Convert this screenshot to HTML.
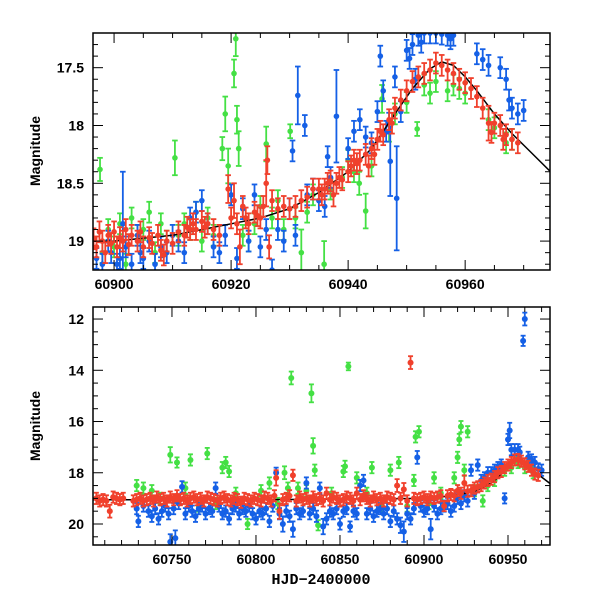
<!DOCTYPE html>
<html><head><meta charset="utf-8"><style>
html,body{margin:0;padding:0;background:#fff;}
svg{display:block;font-family:"Liberation Sans",sans-serif;}
</style></head><body>
<svg id="chart" width="600" height="600" viewBox="0 0 600 600">
<defs>
<clipPath id="clipTop"><rect x="93" y="33" width="457" height="237"/></clipPath>
<clipPath id="clipBot"><rect x="93" y="307" width="457" height="238"/></clipPath>
</defs>
<g id="top"></g>
<g id="bot"></g>
<text x="321" y="584" text-anchor="middle" font-size="15" font-weight="bold" font-family="Liberation Mono, monospace">HJD−2400000</text>
<text transform="translate(40,151) rotate(-90)" text-anchor="middle" font-size="14" font-weight="bold">Magnitude</text>
<text transform="translate(40,426) rotate(-90)" text-anchor="middle" font-size="14" font-weight="bold">Magnitude</text>
</svg>
<script>
// ---- data ----
const modelT=[60700,60800,60900,60910,60920,60925,60930,60935,60940,60944,60948,60951,60954,60956,60958,60960,60962,60965,60968,60971,60975];
const modelM=[19.05,19.05,19.0,18.95,18.85,18.8,18.72,18.58,18.4,18.2,17.9,17.68,17.51,17.45,17.48,17.58,17.7,17.9,18.07,18.22,18.42];

const topRed=[[60896.5,18.98],[60897,19.05],[60897.5,18.92],[60898,19.0],[60898.5,19.1],[60899,18.95],[60899.5,19.02],[60900,18.92],[60900.5,19.05],[60901,18.97],[60901.5,19.0],[60902,18.9],[60902.5,19.03],[60903,18.95],[60904,19.0],[60904.5,18.92],[60905,19.05],[60906,18.97],[60906.5,19.02],[60907.5,18.95],[60908,19.08],[60908.5,19.12],[60909,19.0],[60910,19.02],[60911,18.92],[60912,18.95],[60912.5,18.88],[60913,18.9],[60913.5,18.85],[60914,18.9],[60915,18.83],[60915.5,18.88],[60916,18.85],[60917,18.9],[60918,18.95],[60919.5,18.55,0.12],[60920,18.8],[60920.5,18.65,0.15],[60921,18.85],[60921.5,19.05,0.15],[60922,18.7],[60922.5,18.8],[60923,18.85],[60924,18.75],[60924.5,18.78],[60925,18.8],[60925.5,18.7],[60926,18.5,0.2],[60926.2,18.3,0.12],[60926.5,19.05,0.1],[60927,18.65],[60928,18.72],[60929,18.7],[60930,18.72],[60931,18.7],[60932,18.65],[60933,18.62],[60934,18.55],[60935,18.55],[60935.5,18.6],[60936,18.55],[60936.5,18.5],[60937,18.48],[60937.5,18.6,0.1],[60938,18.5],[60938.5,18.45],[60939,18.47],[60940,18.4],[60940.5,18.35],[60941,18.3],[60941.5,18.33],[60942,18.3],[60943,18.25],[60943.5,18.35],[60944,18.2],[60944.5,18.25],[60945,18.12],[60945.5,18.05],[60946,18.08],[60947,17.95],[60947.5,17.98],[60948,17.85],[60949,17.78],[60950,17.7],[60951,17.62],[60952,17.58],[60953,17.55],[60954,17.52],[60955,17.46],[60956,17.48],[60957,17.52],[60958,17.55],[60959,17.6],[60960,17.63],[60961,17.68],[60962,17.75],[60963,17.85],[60964,17.98,0.15],[60964.5,18.06],[60965,17.98],[60966,18.0],[60966.5,18.12],[60967,18.08],[60968,18.12],[60969,18.15]];
const topBlue=[[60897,19.15],[60898,19.2],[60899,19.0],[60899.5,19.1],[60900.5,19.2],[60901,19.15],[60901.5,18.85,0.45],[60902,19.05],[60903,19.2],[60904,18.95],[60904.5,19.1],[60905,19.15],[60906,19.0],[60907,19.2],[60908,19.05],[60909,19.1],[60910,18.95],[60911,19.0],[60912,19.1],[60913,18.8],[60914,18.75],[60915,18.65],[60916,18.85],[60917,19.05],[60918,19.1],[60919,18.95],[60920,18.6],[60921,19.15],[60922,18.72],[60923,19.0],[60924,18.6],[60925,19.05],[60926,18.9],[60927,19.25],[60928,18.9],[60929,19.0],[60930,18.72],[60930.5,18.22],[60931.4,17.74,0.25],[60932.6,18.0],[60931,18.95],[60933,18.6],[60934,18.55],[60935,18.65],[60936,18.7],[60936.5,18.27],[60937,18.45],[60938,17.92,0.4],[60940,18.2],[60941,18.05],[60942,17.95],[60943,18.1],[60944,18.15],[60945,17.88],[60945.5,17.4],[60946,17.7],[60946.5,18.05],[60947,17.98],[60947.2,18.31,0.3],[60948.3,18.63,0.45],[60948,17.58],[60949,17.88],[60950,17.35],[60950.5,17.42],[60951,17.3],[60951.5,17.6],[60952,17.22],[60952.5,17.28],[60953,17.2],[60954,17.2],[60955,17.2],[60956,17.21],[60957,17.22],[60957.5,17.25],[60958,17.22],[60962,17.38],[60963,17.43],[60964,17.48],[60966,17.5],[60967,17.6],[60967.5,17.78],[60968,17.85],[60969,17.9],[60970,17.87]];
const topGreen=[[60897.6,18.38,0.1],[60898,19.1],[60899,18.9],[60900,19.05],[60901,18.85],[60902,19.2],[60903,18.8],[60904,18.95],[60905,18.9],[60906,18.75],[60907,19.1],[60908,18.85],[60909,19.0],[60910.4,18.28,0.15],[60911,18.95],[60912,18.85],[60913,18.9],[60914,18.75],[60915,19.0],[60916,18.8],[60917,18.95],[60918.5,18.2,0.1],[60919,17.9,0.15],[60919.5,18.35,0.15],[60920.5,17.55,0.12],[60920.8,17.25,0.15],[60921,17.95,0.12],[60921.3,18.2,0.15],[60922,18.95],[60923,19.0],[60924,18.85],[60925,18.7],[60926,18.16,0.15],[60927,18.8],[60928,18.65],[60929,18.9],[60930.1,18.05,0.06],[60931,18.8],[60932,19.1,0.2],[60933,18.75],[60934,18.6],[60935.9,19.2,0.2],[60937,18.55],[60939,18.45],[60940,18.3],[60941,18.4],[60941.9,18.5,0.1],[60943,18.74,0.15],[60944,18.35],[60945.8,17.77,0.12],[60947,18.05],[60948,17.9],[60950,17.8],[60951.8,18.03,0.06],[60953,17.65],[60954,17.72],[60955,17.62],[60957,17.7],[60958,17.65],[60959,17.68],[60960,17.72],[60964,17.95],[60965,18.02],[60967,18.15],[60968,18.12]];

const botRed=[[60705,19.0],[60707,19.1],[60709,19.05],[60711,19.1],[60713,19.5,0.25],[60715,18.95],[60717,19.0],[60719,19.05],[60721,19.0],[60727,19.1],[60729,19.05],[60731,19.0],[60733,19.1],[60735,19.05],[60737,19.0],[60739,19.1],[60741,18.95],[60743,19.05],[60745,19.0],[60747,19.1],[60749,18.95],[60751,19.05],[60753,18.9],[60755,19.05],[60757,19.0],[60759,19.1],[60761,19.0],[60763,18.95],[60765,19.05],[60767,19.0],[60769,19.1],[60771,18.95],[60773,19.0],[60775,19.05],[60777,19.1],[60779,19.0],[60781,18.95],[60783,19.05],[60785,19.1],[60787,19.0],[60789,19.05],[60791,19.15],[60793,19.0],[60795,19.05],[60797,19.1],[60799,19.0],[60801,19.05],[60803,19.1],[60805,18.95],[60807,19.0],[60809,19.1],[60811,18.9],[60812,18.2,0.3],[60814,19.5,0.3],[60816,19.05],[60818,19.0],[60820,18.9],[60822,18.1],[60824,19.1],[60826,18.95],[60828,19.05],[60830,19.0],[60832,19.1],[60834,18.95],[60836,19.05],[60838,19.0],[60840,19.1],[60842,18.8],[60844,19.05],[60846,18.95],[60848,19.0],[60850,19.1],[60852,19.05],[60854,18.95],[60856,19.0],[60858,19.1],[60860,18.8],[60862,19.05],[60864,18.9],[60866,19.0],[60868,19.1],[60870,18.95],[60872,19.05],[60874,19.0],[60876,19.1],[60878,18.95],[60880,19.0],[60882,19.05],[60884,18.5,0.25],[60886,19.0],[60888,18.65,0.25],[60890,19.1],[60892,13.7,0.25],[60894,19.0],[60896,19.05],[60898,19.0],[60900,18.95],[60902,19.05],[60904,18.95],[60906,19.0],[60908,18.95],[60910,18.9],[60912,19.3,0.2],[60914,18.9],[60916,18.85],[60918,18.9],[60920,18.7],[60922,18.8],[60924,18.4,0.3],[60926,18.72],[60928,18.7],[60930,18.6],[60932,18.55],[60934,18.5],[60936,18.4],[60938,18.3],[60940,18.25],[60942,18.15],[60944,18.0],[60946,17.95],[60948,17.8],[60950,17.7],[60952,17.6],[60954,17.5],[60956,17.48],[60958,17.55],[60960,17.65],[60962,17.75],[60964,17.9],[60966,18.05],[60968,18.1]];
const botBlue=[[60729,19.4],[60730,19.9],[60733,19.3],[60736,19.5],[60738,19.7],[60740,19.4],[60742,19.8],[60744,19.5],[60746,19.3],[60748,19.6],[60749,20.7,0.3],[60751,19.4],[60752,20.55,0.3],[60754,19.2],[60756,18.55],[60758,19.6],[60760,19.3],[60762,19.5],[60764,19.7],[60766,19.4],[60768,19.3],[60770,19.6],[60772,19.4],[60774,19.5],[60776,18.6],[60778,19.3],[60780,19.6],[60782,19.5],[60784,19.8],[60786,19.4],[60788,19.3],[60790,19.6],[60792,19.4],[60794,19.5],[60796,19.3],[60798,19.6],[60800,19.8],[60802,19.5],[60804,19.6],[60806,19.4],[60808,19.9],[60810,19.3],[60812,18.0,0.2],[60814,19.6],[60816,20.0,0.3],[60818,19.5],[60820,19.7],[60822,20.2,0.3],[60824,19.4],[60826,19.6],[60828,19.5],[60830,18.4],[60832,19.6],[60834,19.4],[60836,19.7],[60838,18.6],[60840,20.1,0.3],[60842,19.8],[60844,19.5],[60846,19.6],[60848,19.4],[60850,20.0],[60852,19.5],[60854,19.4],[60856,20.1,0.2],[60858,19.5],[60860,19.6],[60862,18.5],[60864,18.3],[60866,19.6],[60868,19.4],[60870,19.7],[60872,19.5],[60874,19.4],[60876,19.6],[60878,19.4],[60880,19.9],[60882,19.5],[60884,19.8],[60886,20.05,0.3],[60888,20.3,0.4],[60890,19.6],[60892,19.8],[60894,19.4],[60896,17.4,0.25],[60898,19.3],[60900,19.5],[60902,19.4],[60904,20.2,0.4],[60906,19.3],[60908,19.6],[60910,19.4],[60912,19.3],[60914,19.2],[60916,19.5],[60918,19.3],[60920,19.0],[60922,19.2],[60924,18.9],[60926,19.1],[60928,17.9],[60930,18.8],[60932,17.7],[60934,18.3],[60936,18.2],[60938,18.0],[60940,18.0],[60942,17.9],[60944,17.8],[60946,17.7],[60948,19.0,0.2],[60950,16.7],[60951,16.35,0.3],[60952,17.1],[60954,17.1],[60956,17.1],[60957,17.2],[60959,12.85,0.2],[60960,12.0,0.25],[60962,17.4],[60964,17.5],[60966,17.6],[60968,17.85],[60970,17.9]];
const botGreen=[[60729,18.5],[60733,18.6],[60738,18.7],[60743,19.0],[60749,17.3,0.3],[60753,17.6,0.2],[60758,18.6],[60761,17.5],[60766,19.3],[60771,17.25],[60776,19.2],[60780,17.8],[60782,17.6],[60784,17.95],[60788,18.8],[60795,20.0,0.2],[60803,18.7],[60808,18.4],[60813,19.2],[60817,18.0,0.25],[60819,18.6],[60821,14.3,0.25],[60825,18.6],[60830,18.7],[60833,14.9,0.35],[60834,16.95,0.3],[60835,17.9],[60837,20.05,0.2],[60845,18.8],[60852,17.95],[60853,17.75],[60855,13.85,0.15],[60860,18.2],[60866,18.8],[60869,17.8],[60875,19.3],[60880,17.9],[60885,17.6],[60890,19.3],[60894,18.3],[60895,16.6],[60897,16.4],[60903,19.2],[60906,18.2],[60910,18.8],[60918,18.2],[60920,17.4],[60921,16.7],[60922,16.2],[60924,17.9],[60926,16.4],[60930,18.7],[60935,19.1],[60938,18.5],[60942,18.3],[60948,17.9],[60952,17.8],[60956,17.6],[60960,17.8],[60965,18.0]];

const topXTicks=[60900,60920,60940,60960];
const topYTicks=[17.5,18,18.5,19];
const botXTicks=[60750,60800,60850,60900,60950];
const botYTicks=[12,14,16,18,20];

// ---- drawing ----
const NS="http://www.w3.org/2000/svg";
const COL={red:"#f0402c",blue:"#1560e6",green:"#44e044"};
function mk(tag,attrs,parent){const e=document.createElementNS(NS,tag);for(const k in attrs)e.setAttribute(k,attrs[k]);parent.appendChild(e);return e;}

function panel(g,cfg){
  const L=93,R=550,T=cfg.top,B=cfg.bottom;
  const sx=t=>L+(t-cfg.x0)/(cfg.x1-cfg.x0)*(R-L);
  const sy=m=>T+(m-cfg.y0)/(cfg.y1-cfg.y0)*(B-T);
  const data=mk("g",{"clip-path":"url(#"+cfg.clip+")"},g);
  function series(arr,color,name,defErr,r,capW){
    const sg=mk("g",{},data);
    
    
    arr.forEach(p=>{
      const x=sx(p[0]),y=sy(p[1]),e=(p[2]||defErr);
      const y1=sy(p[1]-e),y2=sy(p[1]+e);
      const pg=mk("g",{},sg);
      
      
      mk("line",{x1:x,x2:x,y1:y1,y2:y2,stroke:color,"stroke-width":1.8},pg);
      mk("line",{x1:x-capW,x2:x+capW,y1:y1,y2:y1,stroke:color,"stroke-width":1.8},pg);
      mk("line",{x1:x-capW,x2:x+capW,y1:y2,y2:y2,stroke:color,"stroke-width":1.8},pg);
      mk("circle",{cx:x,cy:y,r:r,fill:color},pg);
    });
  }
  series(cfg.green,COL.green,"green-band-series",cfg.err,cfg.r,cfg.cap);
  series(cfg.blue,COL.blue,"blue-band-series",cfg.err,cfg.r,cfg.cap);
  const pts=modelT.map((t,i)=>sx(t).toFixed(1)+","+sy(modelM[i]).toFixed(1)).join(" ");
  const ml=mk("polyline",{points:pts,fill:"none",stroke:"#000","stroke-width":1.5,"stroke-linejoin":"round"},data);
  
  
  series(cfg.red,COL.red,"red-band-series",cfg.err,cfg.r,cfg.cap);
  const fr=mk("rect",{x:L,y:T,width:R-L,height:B-T,fill:"none",stroke:"#000","stroke-width":1.5},g);
  
  
  for(let t=Math.ceil(cfg.x0/cfg.xmin)*cfg.xmin;t<=cfg.x1;t+=cfg.xmin){
    const x=sx(t),maj=Math.abs(t/cfg.xmaj-Math.round(t/cfg.xmaj))<1e-6,len=maj?10:5;
    mk("line",{x1:x,x2:x,y1:B,y2:B-len,stroke:"#000","stroke-width":1},g);
    mk("line",{x1:x,x2:x,y1:T,y2:T+len,stroke:"#000","stroke-width":1},g);
  }
  for(let k=Math.ceil(cfg.y0/cfg.ymin-1e-6);k*cfg.ymin<=cfg.y1+1e-9;k++){
    const m=k*cfg.ymin,y=sy(m),maj=Math.abs(m/cfg.ymaj-Math.round(m/cfg.ymaj))<1e-6,len=maj?10:5;
    mk("line",{x1:L,x2:L+len,y1:y,y2:y,stroke:"#000","stroke-width":1},g);
    mk("line",{x1:R,x2:R-len,y1:y,y2:y,stroke:"#000","stroke-width":1},g);
  }
  cfg.xt.forEach(t=>{
    const tx=mk("text",{x:sx(t),y:B+19,"text-anchor":"middle","font-size":14,"font-weight":"bold"},g);
    
    
    tx.textContent=t;
  });
  cfg.yt.forEach(m=>{
    const tx=mk("text",{x:L-9,y:sy(m)+5,"text-anchor":"end","font-size":14,"font-weight":"bold"},g);
    
    
    tx.textContent=m;
  });
}
panel(document.getElementById("top"),{top:33,bottom:270,x0:60896.4,x1:60974.5,y0:17.2,y1:19.25,clip:"clipTop",
  red:topRed,blue:topBlue,green:topGreen,err:0.09,r:2.8,cap:2.8,xt:topXTicks,yt:topYTicks,xmin:5,xmaj:20,ymin:0.1,ymaj:0.5});
panel(document.getElementById("bot"),{top:307,bottom:545,x0:60703,x1:60975,y0:11.53,y1:20.82,clip:"clipBot",
  red:botRed,blue:botBlue,green:botGreen,err:0.22,r:3,cap:2.5,xt:botXTicks,yt:botYTicks,xmin:10,xmaj:50,ymin:0.5,ymaj:2});
</script>
</body></html>
